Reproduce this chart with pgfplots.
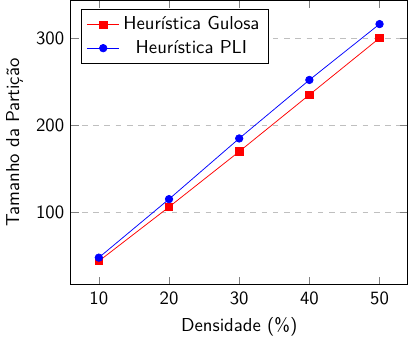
\documentclass[border=0pt]{standalone}
\usepackage{pgfplots}
\pgfplotsset{compat=1.18}
\renewcommand{\familydefault}{\sfdefault}
\begin{document}
\begin{tikzpicture}
\begin{axis}[
  scale only axis,
  width=180pt, height=152pt,
  /pgf/number format/assume math mode=true,
  xlabel={Densidade (\%)},
  ylabel={Tamanho da Partição},
  xtick={10,20,30,40,50},
  ytick={100,200,300},
  ymajorgrids=true,
  grid style={dashed, gray!50},
  legend pos=north west,
  legend cell align=center,
]
\addplot[red, mark=square*] coordinates {(10,44.5) (20,106.5) (30,170) (40,235) (50,300)};
\addlegendentry{Heurística Gulosa}
\addplot[blue, mark=*] coordinates {(10,48.5) (20,115.5) (30,185) (40,252) (50,316)};
\addlegendentry{Heurística PLI}
\end{axis}
\end{tikzpicture}
\end{document}
